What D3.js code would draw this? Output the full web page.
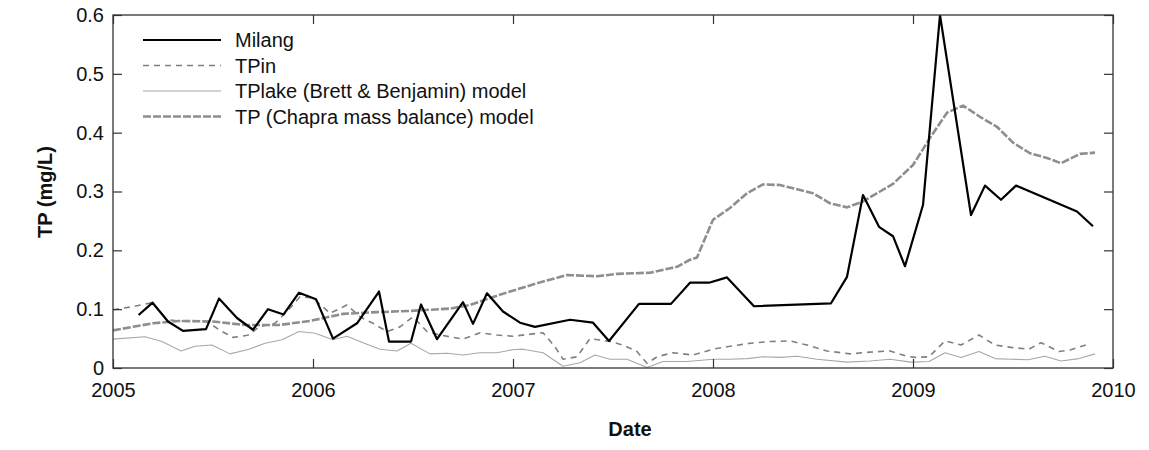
<!DOCTYPE html>
<html>
<head>
<meta charset="utf-8">
<script src="https://cdn.jsdelivr.net/npm/d3@7"></script>
<style>
  html, body { margin: 0; padding: 0; background: #fff; }
  svg { display: block; font-family: "Liberation Sans", Arial, Helvetica, sans-serif; }
</style>
</head>
<body>
<svg id="chart" width="1149" height="450"></svg>
<script>
// Total phosphorus at Milang vs. model estimates (decimal year, mg/L)
const milangT = [2005.128, 2005.198, 2005.275, 2005.35, 2005.465, 2005.53, 2005.62, 2005.70, 2005.775, 2005.853, 2005.93, 2006.015,
  2006.10, 2006.22, 2006.33, 2006.38, 2006.49, 2006.54, 2006.62, 2006.75, 2006.80, 2006.87, 2006.95, 2007.035,
  2007.11, 2007.285, 2007.40, 2007.48, 2007.63, 2007.79, 2007.885, 2007.98, 2008.07, 2008.205, 2008.59, 2008.67,
  2008.75, 2008.83, 2008.90, 2008.96, 2009.05, 2009.135, 2009.29, 2009.36, 2009.44, 2009.515, 2009.82, 2009.90];
const milangV = [0.090, 0.111, 0.079, 0.063, 0.066, 0.118, 0.085, 0.065, 0.100, 0.091, 0.128, 0.117,
  0.050, 0.076, 0.130, 0.045, 0.045, 0.108, 0.049, 0.112, 0.075, 0.127, 0.096, 0.077,
  0.070, 0.082, 0.077, 0.046, 0.109, 0.109, 0.145, 0.145, 0.154, 0.105, 0.110, 0.155,
  0.294, 0.240, 0.224, 0.173, 0.277, 0.600, 0.260, 0.310, 0.286, 0.310, 0.266, 0.241];

const tpinT = [2005.0, 2005.095, 2005.195, 2005.27, 2005.33, 2005.47, 2005.535, 2005.60, 2005.68, 2005.73, 2005.81, 2005.87,
  2005.935, 2006.0, 2006.085, 2006.17, 2006.235, 2006.30, 2006.37, 2006.435, 2006.50, 2006.57, 2006.635, 2006.75,
  2006.835, 2006.92, 2007.0, 2007.15, 2007.21, 2007.25, 2007.32, 2007.385, 2007.485, 2007.55, 2007.62, 2007.67,
  2007.72, 2007.80, 2007.90, 2008.0, 2008.07, 2008.185, 2008.285, 2008.385, 2008.47, 2008.57, 2008.685, 2008.785,
  2008.885, 2008.97, 2009.01, 2009.08, 2009.16, 2009.24, 2009.33, 2009.41, 2009.49, 2009.58, 2009.64, 2009.73,
  2009.79, 2009.88];
const tpinV = [0.099, 0.104, 0.111, 0.082, 0.080, 0.079, 0.064, 0.052, 0.056, 0.070, 0.076, 0.096,
  0.121, 0.119, 0.093, 0.107, 0.087, 0.076, 0.062, 0.070, 0.087, 0.062, 0.056, 0.049,
  0.060, 0.056, 0.054, 0.060, 0.036, 0.015, 0.019, 0.050, 0.045, 0.039, 0.028, 0.008,
  0.019, 0.026, 0.022, 0.032, 0.036, 0.042, 0.045, 0.046, 0.039, 0.029, 0.024, 0.027,
  0.029, 0.020, 0.018, 0.019, 0.046, 0.039, 0.056, 0.039, 0.035, 0.032, 0.043, 0.028,
  0.031, 0.041];

const lakeT = [2005.0, 2005.16, 2005.245, 2005.34, 2005.41, 2005.495, 2005.585, 2005.68, 2005.76, 2005.845, 2005.93, 2006.01,
  2006.10, 2006.17, 2006.25, 2006.335, 2006.42, 2006.49, 2006.585, 2006.67, 2006.75, 2006.835, 2006.92, 2007.0,
  2007.05, 2007.15, 2007.25, 2007.335, 2007.41, 2007.485, 2007.57, 2007.67, 2007.75, 2007.87, 2008.0, 2008.085,
  2008.17, 2008.25, 2008.335, 2008.42, 2008.52, 2008.67, 2008.785, 2008.885, 2008.99, 2009.08, 2009.16, 2009.24,
  2009.33, 2009.41, 2009.49, 2009.575, 2009.66, 2009.74, 2009.83, 2009.91];
const lakeV = [0.049, 0.053, 0.045, 0.029, 0.037, 0.039, 0.024, 0.032, 0.042, 0.048, 0.062, 0.059,
  0.048, 0.054, 0.043, 0.032, 0.029, 0.042, 0.024, 0.025, 0.022, 0.026, 0.026, 0.031,
  0.032, 0.026, 0.003, 0.009, 0.022, 0.015, 0.015, 0.001, 0.011, 0.011, 0.015, 0.015,
  0.016, 0.019, 0.018, 0.020, 0.015, 0.010, 0.012, 0.015, 0.010, 0.011, 0.026, 0.018,
  0.028, 0.016, 0.015, 0.014, 0.020, 0.012, 0.016, 0.024];

const chapraT = [2005.0, 2005.1, 2005.2, 2005.33, 2005.5, 2005.66, 2005.83, 2005.985, 2006.15, 2006.32, 2006.485, 2006.685,
  2006.785, 2006.885, 2006.985, 2007.12, 2007.27, 2007.42, 2007.52, 2007.685, 2007.82, 2007.885, 2007.92, 2008.0,
  2008.085, 2008.17, 2008.25, 2008.335, 2008.50, 2008.585, 2008.67, 2008.75, 2008.835, 2008.90, 2009.0, 2009.085,
  2009.17, 2009.25, 2009.335, 2009.42, 2009.50, 2009.585, 2009.67, 2009.74, 2009.835, 2009.91];
const chapraV = [0.064, 0.070, 0.076, 0.080, 0.079, 0.073, 0.073, 0.080, 0.092, 0.095, 0.097, 0.101,
  0.107, 0.119, 0.130, 0.144, 0.158, 0.156, 0.160, 0.162, 0.172, 0.184, 0.188, 0.252,
  0.272, 0.297, 0.312, 0.311, 0.297, 0.280, 0.273, 0.283, 0.300, 0.313, 0.345, 0.391,
  0.434, 0.446, 0.427, 0.410, 0.383, 0.365, 0.357, 0.348, 0.364, 0.366];

const yearTicks = [2005, 2006, 2007, 2008, 2009, 2010];
const valueTicks = [0, 0.1, 0.2, 0.3, 0.4, 0.5, 0.6];

const seriesNames = ["Milang", "TPin", "TPlake (Brett & Benjamin) model", "TP (Chapra mass balance) model"];

const svg = d3.select("#chart");
const margin = { left: 113, right: 36, top: 15, bottom: 82 };
const W = 1149, H = 450;
const iw = W - margin.left - margin.right;
const ih = H - margin.top - margin.bottom;
const fontSize = "20px";

const x = d3.scaleLinear().domain([2005, 2010]).range([margin.left, margin.left + iw]);
const y = d3.scaleLinear().domain([0, 0.6]).range([margin.top + ih, margin.top]);

const styles = [
  { stroke: "#000", width: 2.2, dash: null },
  { stroke: "#808080", width: 1.6, dash: "6,5" },
  { stroke: "#a8a8a8", width: 1.1, dash: null },
  { stroke: "#8e8e8e", width: 2.6, dash: "8,2" }
];

const series = [
  d3.zip(milangT, milangV),
  d3.zip(tpinT, tpinV),
  d3.zip(lakeT, lakeV),
  d3.zip(chapraT, chapraV)
];

// clip lines to the plot frame
svg.append("defs").append("clipPath").attr("id", "plot")
  .append("rect").attr("x", margin.left).attr("y", margin.top).attr("width", iw).attr("height", ih);

const line = d3.line().x(d => x(d[0])).y(d => y(d[1]));

const g = svg.append("g").attr("clip-path", "url(#plot)");
// draw order: lake, tpin, chapra, milang on top
[2, 1, 3, 0].forEach(i => {
  g.append("path")
    .datum(series[i])
    .attr("fill", "none")
    .attr("stroke", styles[i].stroke)
    .attr("stroke-width", styles[i].width)
    .attr("stroke-dasharray", styles[i].dash)
    .attr("stroke-linejoin", "round")
    .attr("d", line);
});

// frame and inward ticks on all four sides
const axisColor = "#333";
const tickFmt = d3.format(".1f");
const axBottom = d3.axisBottom(x).tickValues(yearTicks).tickSize(-9).tickPadding(15).tickFormat(d3.format("d"));
const axTop = d3.axisTop(x).tickValues(yearTicks).tickSize(-9).tickFormat("");
const axLeft = d3.axisLeft(y).tickValues(valueTicks).tickSize(-9).tickPadding(9).tickFormat(d => d === 0 ? "0" : tickFmt(d));
const axRight = d3.axisRight(y).tickValues(valueTicks).tickSize(-9).tickFormat("");

function styleAxis(sel) {
  sel.select(".domain").remove();
  sel.selectAll("line").attr("stroke", axisColor).attr("stroke-width", 1.2);
  sel.selectAll("text").attr("fill", "#111").style("font-size", fontSize).style("font-family", "'Liberation Sans', Arial, sans-serif");
}

svg.append("g").attr("transform", `translate(0,${margin.top + ih})`).call(axBottom).call(styleAxis);
svg.append("g").attr("transform", `translate(0,${margin.top})`).call(axTop).call(styleAxis);
svg.append("g").attr("transform", `translate(${margin.left},0)`).call(axLeft).call(styleAxis);
svg.append("g").attr("transform", `translate(${margin.left + iw},0)`).call(axRight).call(styleAxis);

svg.append("rect")
  .attr("x", margin.left).attr("y", margin.top).attr("width", iw).attr("height", ih)
  .attr("fill", "none").attr("stroke", axisColor).attr("stroke-width", 1.3);

// axis titles
svg.append("text")
  .attr("x", 630).attr("y", 436)
  .attr("text-anchor", "middle")
  .style("font-size", fontSize).style("font-weight", "bold").attr("fill", "#111")
  .text("Date");

svg.append("text")
  .attr("transform", `translate(52,192) rotate(-90)`)
  .attr("text-anchor", "middle")
  .style("font-size", fontSize).style("font-weight", "bold").attr("fill", "#111")
  .text("TP (mg/L)");

// legend
const legend = svg.append("g");
seriesNames.forEach((name, i) => {
  const ly = 40 + i * 25.5;
  legend.append("line")
    .attr("x1", 143).attr("x2", 221).attr("y1", ly).attr("y2", ly)
    .attr("stroke", styles[i].stroke)
    .attr("stroke-width", styles[i].width)
    .attr("stroke-dasharray", styles[i].dash);
  legend.append("text")
    .attr("x", 235).attr("y", ly).attr("dy", "0.35em")
    .style("font-size", fontSize).attr("fill", "#111")
    .text(name);
});
</script>
</body>
</html>
